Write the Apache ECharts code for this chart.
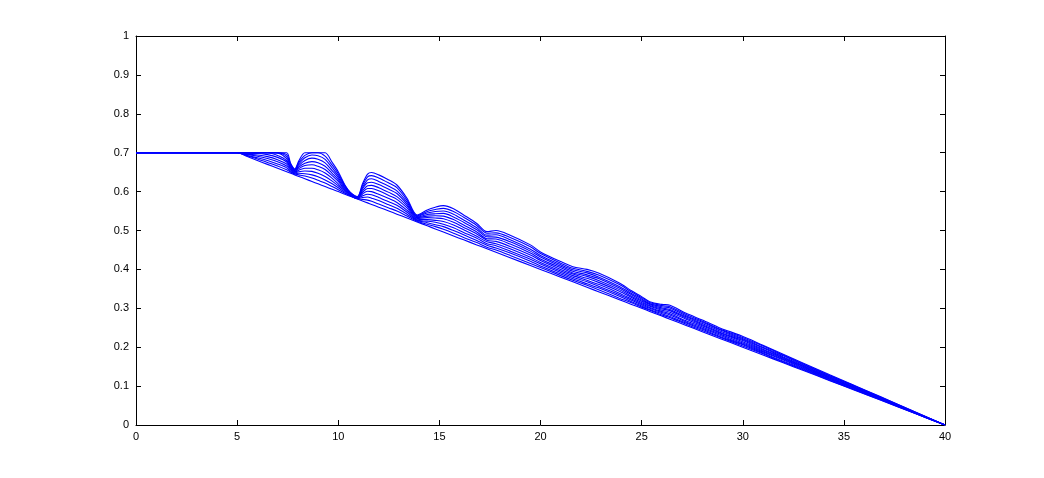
<!DOCTYPE html>
<html>
<head>
<meta charset="utf-8">
<script src="https://cdn.jsdelivr.net/npm/echarts@6/dist/echarts.min.js"></script>
<style>
html,body{margin:0;padding:0;background:#fff;}
#chart{width:1044px;height:478px;}
</style>
</head>
<body>
<div id="chart"></div>
<script>
var xValues = [0,5,5.5,6,6.5,7,7.45,7.65,7.85,8.05,8.35,8.7,9.0,9.35,9.7,10.0,10.33,10.6,10.95,11.2,11.45,11.65,12.0,12.5,12.9,13.4,13.9,14.4,14.8,15.2,15.7,16.2,16.85,17.35,17.8,18.5,19.5,20,21,21.6,22.3,22.9,23.9,24.5,25,25.4,26,26.4,27.2,28,28.9,29.9,31,32,33,34.3,35.5,36.8,38.5,40];

var curve0 = [0.7,0.7,0.690,0.680,0.670,0.660,0.651,0.647,0.643,0.639,0.633,0.626,0.620,0.613,0.606,0.600,0.593,0.588,0.581,0.576,0.571,0.567,0.560,0.550,0.542,0.532,0.522,0.512,0.504,0.496,0.486,0.476,0.463,0.453,0.444,0.430,0.410,0.400,0.380,0.368,0.354,0.342,0.322,0.310,0.300,0.292,0.280,0.272,0.256,0.240,0.222,0.202,0.180,0.160,0.140,0.114,0.090,0.064,0.030,0];
var curve1 = [0.7,0.7,0.692,0.684,0.675,0.666,0.656,0.650,0.645,0.643,0.640,0.635,0.629,0.622,0.613,0.605,0.596,0.589,0.582,0.580,0.578,0.575,0.568,0.558,0.550,0.537,0.524,0.516,0.510,0.503,0.493,0.482,0.469,0.457,0.450,0.436,0.415,0.405,0.384,0.372,0.359,0.347,0.326,0.314,0.303,0.295,0.283,0.276,0.259,0.243,0.225,0.205,0.183,0.162,0.142,0.115,0.091,0.065,0.030,0];
var curve2 = [0.7,0.7,0.693,0.687,0.680,0.671,0.661,0.652,0.646,0.647,0.646,0.643,0.638,0.630,0.620,0.610,0.598,0.590,0.582,0.585,0.586,0.583,0.577,0.566,0.557,0.542,0.526,0.520,0.515,0.510,0.500,0.489,0.474,0.462,0.455,0.442,0.421,0.409,0.388,0.376,0.363,0.352,0.331,0.317,0.306,0.297,0.286,0.279,0.262,0.246,0.227,0.208,0.185,0.164,0.144,0.117,0.092,0.066,0.031,0];
var curve3 = [0.7,0.7,0.695,0.691,0.685,0.677,0.666,0.655,0.648,0.651,0.653,0.652,0.647,0.639,0.627,0.615,0.601,0.591,0.583,0.589,0.593,0.592,0.585,0.574,0.565,0.547,0.527,0.524,0.521,0.516,0.507,0.495,0.480,0.466,0.461,0.447,0.426,0.414,0.392,0.380,0.368,0.356,0.335,0.321,0.309,0.300,0.289,0.283,0.265,0.249,0.230,0.210,0.188,0.167,0.146,0.118,0.094,0.067,0.031,0];
var curve4 = [0.7,0.7,0.696,0.694,0.690,0.682,0.671,0.657,0.649,0.655,0.660,0.660,0.656,0.648,0.634,0.620,0.603,0.592,0.583,0.594,0.601,0.600,0.593,0.582,0.572,0.552,0.529,0.528,0.526,0.523,0.514,0.502,0.485,0.471,0.466,0.453,0.431,0.418,0.396,0.384,0.372,0.361,0.339,0.324,0.312,0.302,0.292,0.286,0.268,0.252,0.233,0.213,0.190,0.169,0.148,0.120,0.095,0.068,0.032,0];
var curve5 = [0.7,0.7,0.698,0.698,0.695,0.688,0.676,0.660,0.651,0.659,0.667,0.669,0.665,0.657,0.641,0.626,0.605,0.593,0.584,0.598,0.608,0.608,0.602,0.590,0.580,0.558,0.531,0.533,0.532,0.530,0.521,0.508,0.491,0.475,0.472,0.459,0.437,0.423,0.400,0.388,0.377,0.366,0.344,0.328,0.315,0.305,0.295,0.290,0.272,0.255,0.236,0.216,0.193,0.171,0.150,0.121,0.096,0.069,0.032,0];
var curve6 = [0.7,0.7,0.699,0.7,0.7,0.693,0.680,0.662,0.652,0.663,0.673,0.677,0.674,0.665,0.647,0.631,0.608,0.594,0.585,0.602,0.615,0.616,0.610,0.598,0.587,0.563,0.533,0.537,0.538,0.537,0.528,0.514,0.496,0.479,0.478,0.465,0.442,0.427,0.404,0.391,0.382,0.371,0.348,0.331,0.318,0.307,0.298,0.294,0.275,0.258,0.238,0.219,0.195,0.173,0.151,0.123,0.097,0.069,0.032,0];
var curve7 = [0.7,0.7,0.7,0.7,0.7,0.699,0.685,0.665,0.654,0.667,0.680,0.686,0.683,0.674,0.654,0.636,0.610,0.595,0.585,0.607,0.623,0.624,0.618,0.606,0.595,0.568,0.535,0.541,0.543,0.544,0.535,0.521,0.502,0.484,0.483,0.471,0.447,0.432,0.408,0.395,0.386,0.376,0.352,0.335,0.321,0.310,0.301,0.297,0.278,0.261,0.241,0.222,0.198,0.175,0.153,0.124,0.098,0.070,0.033,0];
var curve8 = [0.7,0.7,0.7,0.7,0.7,0.7,0.690,0.667,0.655,0.671,0.687,0.694,0.692,0.683,0.661,0.641,0.613,0.596,0.586,0.611,0.630,0.633,0.626,0.614,0.602,0.573,0.536,0.545,0.549,0.550,0.542,0.527,0.507,0.488,0.489,0.476,0.452,0.436,0.412,0.399,0.391,0.380,0.356,0.338,0.324,0.312,0.304,0.301,0.281,0.264,0.244,0.224,0.200,0.178,0.155,0.126,0.100,0.071,0.033,0];
var curve9 = [0.7,0.7,0.7,0.7,0.7,0.7,0.695,0.670,0.657,0.675,0.693,0.7,0.7,0.691,0.668,0.646,0.615,0.597,0.586,0.616,0.638,0.641,0.635,0.622,0.610,0.578,0.538,0.549,0.554,0.557,0.549,0.534,0.513,0.493,0.494,0.482,0.458,0.441,0.416,0.403,0.395,0.385,0.361,0.342,0.327,0.315,0.307,0.304,0.284,0.267,0.246,0.227,0.203,0.180,0.157,0.127,0.101,0.072,0.034,0];
var curve10 = [0.7,0.7,0.7,0.7,0.7,0.7,0.7,0.672,0.658,0.679,0.7,0.7,0.7,0.7,0.675,0.651,0.617,0.598,0.587,0.620,0.645,0.649,0.643,0.630,0.617,0.583,0.540,0.553,0.560,0.564,0.556,0.540,0.518,0.497,0.500,0.488,0.463,0.445,0.420,0.407,0.400,0.390,0.365,0.345,0.330,0.317,0.310,0.308,0.287,0.270,0.249,0.230,0.205,0.182,0.159,0.129,0.102,0.073,0.034,0];

var curves = [curve0,curve1,curve2,curve3,curve4,curve5,curve6,curve7,curve8,curve9,curve10];

var xTicks = {min: 0, max: 40, interval: 5};
var yTicks = {min: 0, max: 1, interval: 0.1};

var chart = echarts.init(document.getElementById('chart'), null, {renderer: 'canvas'});

var labelFont = {color: '#000', fontFamily: 'Liberation Sans, Arial, sans-serif', fontSize: 11};
var lineStyle = {color: '#000', width: 1};

function axisX(pos, showLabel) {
  return {
    type: 'value', position: pos, min: xTicks.min, max: xTicks.max, interval: xTicks.interval,
    axisLine: {show: true, onZero: false, lineStyle: lineStyle},
    axisTick: {show: true, inside: true, length: 5, lineStyle: lineStyle},
    axisLabel: Object.assign({show: showLabel, margin: 6}, labelFont),
    splitLine: {show: false}
  };
}
function axisY(pos, showLabel) {
  return {
    type: 'value', position: pos, min: yTicks.min, max: yTicks.max, interval: yTicks.interval,
    axisLine: {show: true, onZero: false, lineStyle: lineStyle},
    axisTick: {show: true, inside: true, length: 5, lineStyle: lineStyle},
    axisLabel: Object.assign({show: showLabel, margin: 7}, labelFont),
    splitLine: {show: false}
  };
}

var series = curves.map(function (c, i) {
  return {
    type: 'line',
    xAxisIndex: 0, yAxisIndex: 0,
    data: xValues.map(function (x, j) { return [x, c[j]]; }),
    showSymbol: false, symbol: 'none',
    smooth: 0.3,
    lineStyle: {color: '#0000ff', width: 1.1},
    z: 2
  };
});

chart.setOption({
  animation: false,
  backgroundColor: '#fff',
  grid: {left: 136, right: 99, top: 36, bottom: 53, containLabel: false},
  xAxis: [axisX('bottom', true), axisX('top', false)],
  yAxis: [axisY('left', true), axisY('right', false)],
  series: series
});
</script>
</body>
</html>
